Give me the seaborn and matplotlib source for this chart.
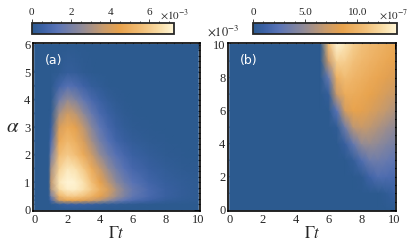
import numpy as np
import matplotlib
matplotlib.use("Agg")
import matplotlib.pyplot as plt
import seaborn as sns
from matplotlib.colors import LinearSegmentedColormap
from matplotlib.ticker import MultipleLocator

sns.set_style("white")
plt.rcParams['font.family'] = ['Liberation Serif', 'DejaVu Serif']
plt.rcParams['mathtext.fontset'] = 'stix'

# ---- panel (a): values in units of 1e-3 ----
t_a = [0, 0.5, 0.85, 1, 1.5, 2, 2.5, 3, 3.5, 4, 4.5, 5, 5.5, 6, 7, 8, 9, 10]
alpha_a = [0, 0.2, 0.35, 0.5, 0.75, 1, 1.5, 2, 2.5, 3, 3.5, 4, 4.5, 5, 6]
val_a = [
    [0, 0, 0, 0, 0, 0, 0, 0, 0, 0, 0, 0, 0, 0, 0, 0, 0, 0],
    [0, 0, 0, 0, 0.3, 0.5, 0.5, 0.5, 0.4, 0.3, 0.2, 0.2, 0.1, 0.1, 0.05, 0, 0, 0],
    [0, 0, 0, 0.8, 3.8, 4.6, 4.6, 4.3, 3.9, 3.3, 2.6, 1.9, 1.4, 1.0, 0.6, 0.3, 0.15, 0.1],
    [0, 0, 0, 2.0, 5.2, 6.0, 6.0, 5.7, 5.1, 4.4, 3.6, 2.8, 2.1, 1.5, 0.9, 0.45, 0.25, 0.1],
    [0, 0, 0, 3.2, 6.5, 7.0, 7.0, 6.6, 5.9, 5.0, 4.0, 3.0, 2.2, 1.6, 0.9, 0.45, 0.25, 0.1],
    [0, 0, 0, 3.5, 6.8, 7.2, 7.1, 6.6, 5.6, 4.5, 3.4, 2.5, 1.8, 1.3, 0.7, 0.35, 0.2, 0.1],
    [0, 0, 0, 3.0, 6.2, 6.8, 6.6, 5.9, 4.8, 3.6, 2.6, 1.8, 1.2, 0.8, 0.4, 0.2, 0.1, 0.05],
    [0, 0, 0, 2.0, 5.5, 6.0, 5.6, 4.8, 3.7, 2.6, 1.8, 1.2, 0.8, 0.5, 0.25, 0.1, 0.05, 0],
    [0, 0, 0, 1.0, 4.8, 5.4, 5.0, 4.0, 2.9, 1.9, 1.2, 0.7, 0.4, 0.25, 0.1, 0.05, 0, 0],
    [0, 0, 0, 0.4, 4.0, 4.8, 4.4, 3.4, 2.3, 1.4, 0.8, 0.4, 0.2, 0.1, 0.05, 0, 0, 0],
    [0, 0, 0, 0.1, 3.0, 3.8, 3.4, 2.5, 1.6, 0.9, 0.5, 0.25, 0.1, 0.05, 0, 0, 0, 0],
    [0, 0, 0, 0, 1.8, 2.6, 2.2, 1.5, 0.9, 0.5, 0.25, 0.1, 0.05, 0, 0, 0, 0, 0],
    [0, 0, 0, 0, 0.7, 1.2, 1.0, 0.6, 0.3, 0.15, 0.05, 0, 0, 0, 0, 0, 0, 0],
    [0, 0, 0, 0, 0.1, 0.3, 0.25, 0.1, 0.05, 0, 0, 0, 0, 0, 0, 0, 0, 0],
    [0, 0, 0, 0, 0, 0, 0, 0, 0, 0, 0, 0, 0, 0, 0, 0, 0, 0],
]

# ---- panel (b): values in units of 1e-7, alpha in units of 1e-3 ----
t_b = [0, 5, 5.5, 6, 6.5, 7, 7.5, 8, 8.5, 9, 9.5, 10]
alpha_b = [0, 1, 2, 3, 4, 5, 6, 7, 8, 9, 10]
val_b = [
    [0, 0, 0, 0, 0, 0, 0, 0, 0, 0, 0, 0],
    [0, 0, 0, 0, 0, 0, 0, 0, 0, 0, 0.3, 0.9],
    [0, 0, 0, 0, 0, 0, 0, 0.2, 1.2, 2.0, 1.9, 1.7],
    [0, 0, 0, 0, 0, 0, 0.5, 2.0, 3.3, 3.4, 3.1, 2.7],
    [0, 0, 0, 0, 0, 0.8, 3.0, 5.0, 5.2, 4.8, 4.3, 3.8],
    [0, 0, 0, 0, 0.3, 3.5, 6.5, 7.0, 6.6, 6.0, 5.4, 4.9],
    [0, 0, 0, 0, 2.5, 7.5, 8.6, 8.4, 7.9, 7.3, 6.7, 6.0],
    [0, 0, 0, 0.5, 7.0, 9.3, 9.3, 9.0, 8.6, 8.1, 7.6, 7.1],
    [0, 0, 0, 3.0, 9.6, 10.5, 10.0, 9.6, 9.2, 8.8, 8.3, 7.9],
    [0, 0, 0, 7.0, 11.8, 11.6, 10.8, 10.2, 9.8, 9.4, 9.0, 8.6],
    [0, 0, 0, 10.5, 13.6, 12.8, 11.6, 10.8, 10.3, 9.9, 9.5, 9.1],
]

cmap = LinearSegmentedColormap.from_list("sunset", [
    (0.0, "#2c5a8f"), (0.08, "#3d62a6"), (0.18, "#5a74b6"),
    (0.35, "#8f8a98"), (0.5, "#c79a6c"), (0.62, "#e8a24c"),
    (0.78, "#f2bf78"), (0.9, "#f9dca5"), (1.0, "#fff6d8")])

fig = plt.figure(figsize=(4.08, 2.45), dpi=100, facecolor='white')
ax_a = fig.add_axes([0.081, 0.137, 0.409, 0.688])
ax_b = fig.add_axes([0.559, 0.137, 0.412, 0.688])
cax_a = fig.add_axes([0.078, 0.861, 0.348, 0.045])
cax_b = fig.add_axes([0.620, 0.861, 0.353, 0.045])

m_a = ax_a.pcolormesh(t_a, alpha_a, np.array(val_a), cmap=cmap, vmin=0, vmax=7.25,
                      shading='gouraud', rasterized=True)
m_b = ax_b.pcolormesh(t_b, alpha_b, np.array(val_b), cmap=cmap, vmin=0, vmax=13.8,
                      shading='gouraud', rasterized=True)

for ax, ymaj, ymin, ylim in [(ax_a, 1, 0.2, (-0.06, 6.06)), (ax_b, 2, 0.5, (-0.1, 10.1))]:
    ax.set_facecolor('white')
    ax.set_xlim(-0.1, 10.1)
    ax.set_ylim(*ylim)
    ax.xaxis.set_major_locator(MultipleLocator(2))
    ax.xaxis.set_minor_locator(MultipleLocator(0.5))
    ax.yaxis.set_major_locator(MultipleLocator(ymaj))
    ax.yaxis.set_minor_locator(MultipleLocator(ymin))
    ax.tick_params(which='both', direction='in', top=True, right=True,
                   labelsize=9, pad=2, width=0.8)
    ax.tick_params(which='major', length=4)
    ax.tick_params(which='minor', length=2)
    for s in ax.spines.values():
        s.set_linewidth(1.2)
        s.set_color('black')
    ax.set_xlabel(r'$\Gamma t$', fontsize=12, labelpad=0)

ax_a.set_ylabel(r'$\alpha$', fontsize=15, rotation=0, labelpad=8, va='center')
ax_a.text(0.6, 5.3, '(a)', color='white', fontsize=9, family='DejaVu Sans')
ax_b.text(0.6, 8.8, '(b)', color='white', fontsize=9, family='DejaVu Sans')
fig.text(0.508, 0.855, r'$\times10^{-3}$', fontsize=9)

for cax, m, ticks, labels, minor, exp, ex in [
        (cax_a, m_a, [0, 2, 4, 6], ['0', '2', '4', '6'], 0.5, r'$\times10^{-3}$', 0.392),
        (cax_b, m_b, [0, 5, 10], ['0', '5.0', '10.0'], 1.0, r'$\times10^{-7}$', 0.928)]:
    cb = fig.colorbar(m, cax=cax, orientation='horizontal')
    cb.outline.set_linewidth(1.3)
    cax.xaxis.set_ticks_position('top')
    cax.xaxis.set_label_position('top')
    cb.set_ticks(ticks)
    cb.set_ticklabels(labels)
    cax.xaxis.set_minor_locator(MultipleLocator(minor))
    cax.tick_params(which='both', direction='out', labelsize=8, pad=1, width=0.6)
    cax.tick_params(which='major', length=3)
    cax.tick_params(which='minor', length=1.5)
    fig.text(ex, 0.925, exp, fontsize=8)

plt.savefig('out.png', dpi=100)
